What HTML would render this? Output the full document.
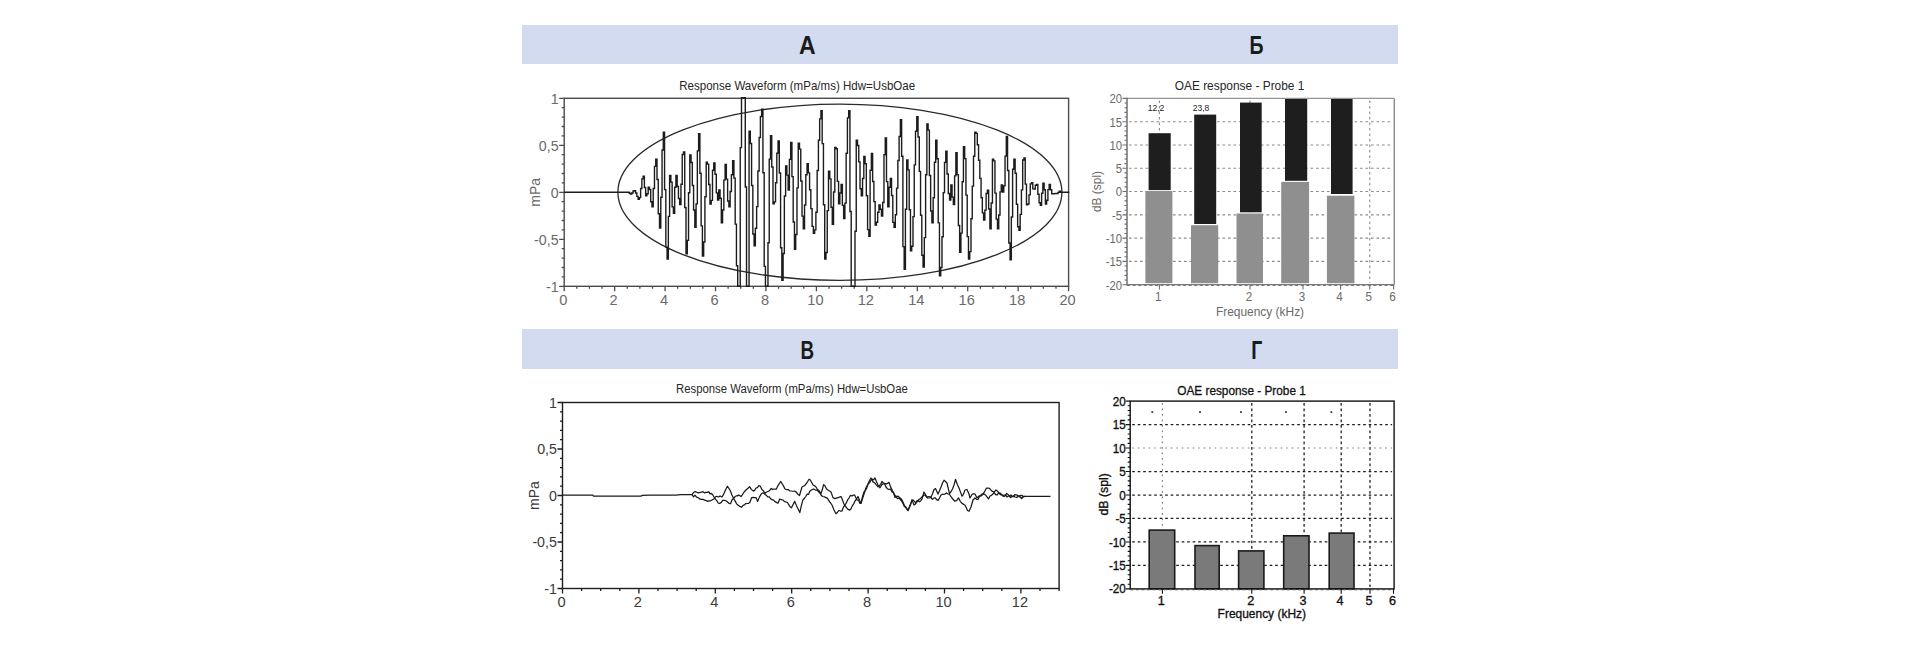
<!DOCTYPE html><html><head><meta charset="utf-8"><title>OAE</title>
<style>html,body{margin:0;padding:0;background:#fff;width:1920px;height:652px;overflow:hidden}svg{display:block}text{font-family:'Liberation Sans', Arial, sans-serif}</style></head><body>
<svg width="1920" height="652" viewBox="0 0 1920 652">
<rect x="0" y="0" width="1920" height="652" fill="#fff"/>
<rect x="522" y="25" width="876" height="39" fill="#d2dbef"/>
<rect x="522" y="329" width="876" height="40" fill="#d2dbef"/>
<text x="807.2" y="53.8" font-family="'Liberation Sans', 'DejaVu Sans', sans-serif" font-weight="bold" font-size="25" fill="#1a1a1a" text-anchor="middle" textLength="16.6" lengthAdjust="spacingAndGlyphs">А</text>
<text x="1256.6" y="53.8" font-family="'Liberation Sans', 'DejaVu Sans', sans-serif" font-weight="bold" font-size="25" fill="#1a1a1a" text-anchor="middle" textLength="14" lengthAdjust="spacingAndGlyphs">Б</text>
<text x="807.2" y="358.8" font-family="'Liberation Sans', 'DejaVu Sans', sans-serif" font-weight="bold" font-size="25" fill="#1a1a1a" text-anchor="middle" textLength="13.6" lengthAdjust="spacingAndGlyphs">В</text>
<text x="1256.8" y="358.8" font-family="'Liberation Sans', 'DejaVu Sans', sans-serif" font-weight="bold" font-size="25" fill="#1a1a1a" text-anchor="middle" textLength="11" lengthAdjust="spacingAndGlyphs">Г</text>
<text x="679.2" y="89.6" font-size="13" fill="#262626" textLength="236" lengthAdjust="spacingAndGlyphs">Response Waveform (mPa/ms) Hdw=UsbOae</text>
<rect x="564.2" y="98.3" width="504.4" height="188" fill="none" stroke="#4a4a4a" stroke-width="1.4"/>
<path d="M559.2 286.3H564.2M561.7 276.9H564.2M561.7 267.5H564.2M561.7 258.1H564.2M561.7 248.7H564.2M559.2 239.3H564.2M561.7 229.9H564.2M561.7 220.5H564.2M561.7 211.1H564.2M561.7 201.7H564.2M559.2 192.3H564.2M561.7 182.9H564.2M561.7 173.5H564.2M561.7 164.1H564.2M561.7 154.7H564.2M559.2 145.3H564.2M561.7 135.9H564.2M561.7 126.5H564.2M561.7 117.1H564.2M561.7 107.7H564.2M559.2 98.3H564.2" stroke="#4a4a4a" stroke-width="1.3" fill="none"/>
<path d="M564.2 286.3V291.3M576.81 286.3V288.8M589.42 286.3V288.8M602.03 286.3V288.8M614.64 286.3V291.3M627.25 286.3V288.8M639.86 286.3V288.8M652.47 286.3V288.8M665.08 286.3V291.3M677.69 286.3V288.8M690.3 286.3V288.8M702.91 286.3V288.8M715.52 286.3V291.3M728.13 286.3V288.8M740.74 286.3V288.8M753.35 286.3V288.8M765.96 286.3V291.3M778.57 286.3V288.8M791.18 286.3V288.8M803.79 286.3V288.8M816.4 286.3V291.3M829.01 286.3V288.8M841.62 286.3V288.8M854.23 286.3V288.8M866.84 286.3V291.3M879.45 286.3V288.8M892.06 286.3V288.8M904.67 286.3V288.8M917.28 286.3V291.3M929.89 286.3V288.8M942.5 286.3V288.8M955.11 286.3V288.8M967.72 286.3V291.3M980.33 286.3V288.8M992.94 286.3V288.8M1005.55 286.3V288.8M1018.16 286.3V291.3M1030.77 286.3V288.8M1043.38 286.3V288.8M1055.99 286.3V288.8M1068.6 286.3V291.3" stroke="#4a4a4a" stroke-width="1.3" fill="none"/>
<text transform="translate(558.6 103.78) scale(0.93 1)" font-size="15.3" fill="#6a6a6a" text-anchor="end">1</text>
<text transform="translate(558.6 150.78) scale(0.93 1)" font-size="15.3" fill="#6a6a6a" text-anchor="end">0,5</text>
<text transform="translate(558.6 197.78) scale(0.93 1)" font-size="15.3" fill="#6a6a6a" text-anchor="end">0</text>
<text transform="translate(558.6 244.78) scale(0.93 1)" font-size="15.3" fill="#6a6a6a" text-anchor="end">-0,5</text>
<text transform="translate(558.6 291.78) scale(0.93 1)" font-size="15.3" fill="#6a6a6a" text-anchor="end">-1</text>
<text transform="translate(563.2 305.1) scale(1 1)" font-size="14.6" fill="#6a6a6a" text-anchor="middle">0</text>
<text transform="translate(613.64 305.1) scale(1 1)" font-size="14.6" fill="#6a6a6a" text-anchor="middle">2</text>
<text transform="translate(664.08 305.1) scale(1 1)" font-size="14.6" fill="#6a6a6a" text-anchor="middle">4</text>
<text transform="translate(714.52 305.1) scale(1 1)" font-size="14.6" fill="#6a6a6a" text-anchor="middle">6</text>
<text transform="translate(764.96 305.1) scale(1 1)" font-size="14.6" fill="#6a6a6a" text-anchor="middle">8</text>
<text transform="translate(815.4 305.1) scale(1 1)" font-size="14.6" fill="#6a6a6a" text-anchor="middle">10</text>
<text transform="translate(865.84 305.1) scale(1 1)" font-size="14.6" fill="#6a6a6a" text-anchor="middle">12</text>
<text transform="translate(916.28 305.1) scale(1 1)" font-size="14.6" fill="#6a6a6a" text-anchor="middle">14</text>
<text transform="translate(966.72 305.1) scale(1 1)" font-size="14.6" fill="#6a6a6a" text-anchor="middle">16</text>
<text transform="translate(1017.16 305.1) scale(1 1)" font-size="14.6" fill="#6a6a6a" text-anchor="middle">18</text>
<text transform="translate(1067.6 305.1) scale(1 1)" font-size="14.6" fill="#6a6a6a" text-anchor="middle">20</text>
<text transform="translate(540.2 192.3) rotate(-90)" font-size="14" fill="#6a6a6a" text-anchor="middle">mPa</text>
<ellipse cx="839.9" cy="192.25" rx="222" ry="88.1" fill="none" stroke="#2a2a2a" stroke-width="1.3"/>
<path d="M564.2 192.3H628V192.3H629.26V193.26H630.52V194H631.78V192.99H633.04V190.97H634.3V190.8H635.57V193H636.83V196.35H638.09V199.2H639.35V197.67H640.61V188.55H641.87V178.9H643.13V176.3H644.39V187.5H645.65V195.7H646.91V193.82H648.18V187.3H649.44V189.48H650.7V201.72H651.96V206.7H653.22V188.52H654.48V166.39H655.74V159.3H657V179.46H658.26V213.8H659.52V228.1H660.79V197.18H662.05V150.03H663.31V132.1H664.57V189.65H665.83V247.1H667.09V259H668.35V216.42H669.61V175.5H670.87V182.15H672.13V206.87H673.4V213.4H674.66V187.19H675.92V175.5H677.18V186.54H678.44V198.55H679.7V204.5H680.96V184.32H682.22V154.53H683.48V152H684.74V207.54H686.01V253.9H687.27V240.37H688.53V192.74H689.79V154.9H691.05V162.5H692.31V185.49H693.57V209.94H694.83V227.3H696.09V203.91H697.35V150.9H698.62V133.6H699.88V173.27H701.14V225.84H702.4V256H703.66V242.03H704.92V196.71H706.18V162.3H707.44V164.14H708.7V184.43H709.96V204H711.23V200.42H712.49V170.25H713.75V163H715.01V174.22H716.27V192.83H717.53V200H718.79V190H720.05V198.24H721.31V222.9H722.57V209.94H723.84V180.11H725.1V164.5H726.36V179.09H727.62V201.03H728.88V206.7H730.14V191.52H731.4V174.82H732.66V160.8H733.92V178.12H735.18V224.14H736.45V265.79H737.71V286.3H738.97V286.3H740.23V147.58H741.49V97.8H742.75V97.8H744.01V97.8H745.27V187.03H746.53V286.3H747.79V286.3H749.06V131.3H750.32V143.51H751.58V185.47H752.84V233.93H754.1V245.8H755.36V228.2H756.62V206.61H757.88V171H759.14V137.46H760.4V116.55H761.67V109.3H762.93V172.76H764.19V266.34H765.45V286.3H766.71V286.3H767.97V242.73H769.23V159.15H770.49V135.8H771.75V166.93H773.01V203.8H774.28V201.92H775.54V182.77H776.8V153.27H778.06V140.9H779.32V172.98H780.58V247.75H781.84V280.4H783.1V253.5H784.36V196.03H785.62V166H786.89V175.16H788.15V190H789.41V159.37H790.67V142.4H791.93V176.61H793.19V222H794.45V249.4H795.71V234.51H796.97V187.87H798.23V143.1H799.5V149.13H800.76V180.99H802.02V216.1H803.28V228.8H804.54V205.01H805.8V174.68H807.06V163.7H808.32V172.92H809.58V189.71H810.84V208.66H812.11V226.4H813.37V233.2H814.63V229.87H815.89V212.18H817.15V170.43H818.41V140.19H819.67V118.92H820.93V110.7H822.19V143.65H823.45V204.7H824.72V259H825.98V252.56H827.24V210.62H828.5V171.1H829.76V178.9H831.02V207.24H832.28V224.4H833.54V192.07H834.8V147.5H836.06V148.76H837.33V181.38H838.59V203.8H839.85V193.04H841.11V184.4H842.37V205.35H843.63V218.5H844.89V203.16H846.15V153.24H847.41V117.84H848.67V110.7H849.94V211.56H851.2V286.3H852.46V286.3H853.72V286.3H854.98V231.3H856.24V140.2H857.5V145.44H858.76V161.83H860.02V188.82H861.28V195.7H862.55V178.54H863.81V156.4H865.07V163.79H866.33V195.78H867.59V229.66H868.85V236.2H870.11V170.24H871.37V153.4H872.63V181.5H873.89V201.63H875.16V225.1H876.42V222.26H877.68V212.25H878.94V205H880.2V209.29H881.46V216H882.72V202.44H883.98V154.78H885.24V138H886.5V181.65H887.77V206.7H889.03V187.19H890.29V178.5H891.55V195.49H892.81V222.42H894.07V227.3H895.33V214.72H896.59V188.14H897.85V160.51H899.11V136.52H900.38V119.6H901.64V156.27H902.9V246.59H904.16V269.3H905.42V209.3H906.68V160H907.94V169.85H909.2V209.71H910.46V250.9H911.72V246.32H912.99V216.66H914.25V164.84H915.51V131.31H916.77V116.6H918.03V137.06H919.29V171.37H920.55V215.26H921.81V255.25H923.07V267.1H924.33V237.66H925.6V174.7H926.86V124H928.12V130.15H929.38V175.53H930.64V211.04H931.9V222.9H933.16V197.77H934.42V162.23H935.68V140.2H936.94V158.76H938.21V222.86H939.47V275.9H940.73V267.5H941.99V236.79H943.25V192.59H944.51V162.34H945.77V151.2H947.03V173.99H948.29V193.54H949.55V200H950.82V185H952.08V197.09H953.34V204.5H954.6V175.89H955.86V152.7H957.12V174.65H958.38V225.49H959.64V252.4H960.9V233.15H962.16V181.68H963.43V146.8H964.69V158.58H965.95V195.14H967.21V236.61H968.47V259H969.73V251.65H970.99V218.73H972.25V186.08H973.51V156.31H974.77V132.1H976.04V133.38H977.3V144.72H978.56V160.3H979.82V178.39H981.08V197.82H982.34V212.91H983.6V220H984.86V210.08H986.12V193.54H987.38V190.3H988.65V208.93H989.91V228.8H991.17V203H992.43V159.3H993.69V160.89H994.95V193.1H996.21V219.09H997.47V228.8H998.73V215.02H999.99V191.92H1001.26V185H1002.52V192H1003.78V185.9H1005.04V156.12H1006.3V136.5H1007.56V170.45H1008.82V242.99H1010.08V259.7H1011.34V216.95H1012.6V169.24H1013.87V159.3H1015.13V173.22H1016.39V204.26H1017.65V226.75H1018.91V230.3H1020.17V214.33H1021.43V189.89H1022.69V159.98H1023.95V157.9H1025.21V184.1H1026.48V204.8H1027.74V204.07H1029V194.88H1030.26V183.87H1031.52V182.6H1032.78V188.91H1034.04V189H1035.3V185.19H1036.56V184.5H1037.82V194.24H1039.09V202.76H1040.35V205.4H1041.61V193.26H1042.87V183.2H1044.13V189.71H1045.39V204.1H1046.65V200.2H1047.91V189.65H1049.17V184.5H1050.43V189.78H1051.7V193.7H1052.96V193.68H1054.22V193.62H1055.48V193.54H1056.74V193.5H1058V192.35H1059.26V191.2H1060.52V192.3H1061.78V192.3H1063.04V192.3H1064.31V192.3H1065.57V192.3H1066.83V192.3H1068.09V192.3H1069.35" fill="none" stroke="#1c1c1c" stroke-width="1.4" stroke-linejoin="miter"/>
<text x="676" y="393.3" font-size="12.5" fill="#262626" textLength="231.8" lengthAdjust="spacingAndGlyphs">Response Waveform (mPa/ms) Hdw=UsbOae</text>
<rect x="562.5" y="402.5" width="496.6" height="186" fill="none" stroke="#1e1e1e" stroke-width="1.4"/>
<path d="M557.5 588.5H562.5M560 579.2H562.5M560 569.9H562.5M560 560.6H562.5M560 551.3H562.5M557.5 542H562.5M560 532.7H562.5M560 523.4H562.5M560 514.1H562.5M560 504.8H562.5M557.5 495.5H562.5M560 486.2H562.5M560 476.9H562.5M560 467.6H562.5M560 458.3H562.5M557.5 449H562.5M560 439.7H562.5M560 430.4H562.5M560 421.1H562.5M560 411.8H562.5M557.5 402.5H562.5" stroke="#1e1e1e" stroke-width="1.3" fill="none"/>
<path d="M562.5 588.5V593.5M581.6 588.5V591M600.7 588.5V591M619.8 588.5V591M638.9 588.5V593.5M658 588.5V591M677.1 588.5V591M696.2 588.5V591M715.3 588.5V593.5M734.4 588.5V591M753.5 588.5V591M772.6 588.5V591M791.7 588.5V593.5M810.8 588.5V591M829.9 588.5V591M849 588.5V591M868.1 588.5V593.5M887.2 588.5V591M906.3 588.5V591M925.4 588.5V591M944.5 588.5V593.5M963.6 588.5V591M982.7 588.5V591M1001.8 588.5V591M1020.9 588.5V593.5M1040 588.5V591M1059.1 588.5V591" stroke="#1e1e1e" stroke-width="1.3" fill="none"/>
<text transform="translate(556.9 407.98) scale(0.93 1)" font-size="15.3" fill="#3a3a3a" text-anchor="end">1</text>
<text transform="translate(556.9 454.48) scale(0.93 1)" font-size="15.3" fill="#3a3a3a" text-anchor="end">0,5</text>
<text transform="translate(556.9 500.98) scale(0.93 1)" font-size="15.3" fill="#3a3a3a" text-anchor="end">0</text>
<text transform="translate(556.9 547.48) scale(0.93 1)" font-size="15.3" fill="#3a3a3a" text-anchor="end">-0,5</text>
<text transform="translate(556.9 593.98) scale(0.93 1)" font-size="15.3" fill="#3a3a3a" text-anchor="end">-1</text>
<text transform="translate(561.5 607.3) scale(1 1)" font-size="14.6" fill="#3a3a3a" text-anchor="middle">0</text>
<text transform="translate(637.9 607.3) scale(1 1)" font-size="14.6" fill="#3a3a3a" text-anchor="middle">2</text>
<text transform="translate(714.3 607.3) scale(1 1)" font-size="14.6" fill="#3a3a3a" text-anchor="middle">4</text>
<text transform="translate(790.7 607.3) scale(1 1)" font-size="14.6" fill="#3a3a3a" text-anchor="middle">6</text>
<text transform="translate(867.1 607.3) scale(1 1)" font-size="14.6" fill="#3a3a3a" text-anchor="middle">8</text>
<text transform="translate(943.5 607.3) scale(1 1)" font-size="14.6" fill="#3a3a3a" text-anchor="middle">10</text>
<text transform="translate(1019.9 607.3) scale(1 1)" font-size="14.6" fill="#3a3a3a" text-anchor="middle">12</text>
<text transform="translate(538.5 495.5) rotate(-90)" font-size="14" fill="#3a3a3a" text-anchor="middle">mPa</text>
<polyline points="562.5,495 592.8,495 593.3,496 641.5,496 642,495.3 650,495.1 676,495.1 681,494.7 692,494.7 693.65,492.28 695.3,491.7 696.87,492.22 698.43,492.91 700,492.4 701.47,492.15 702.93,491.67 704.4,492.8 705.83,492.38 707.27,492.43 708.7,491.7 710.03,493.85 711.35,493.44 712.67,494.71 714,497 715.38,499.15 716.75,500.61 718.12,503.03 719.5,503.5 721.1,502.64 722.7,500.3 724.1,500.32 725.5,500.5 727.3,501.79 729.1,503.5 730.53,503.76 731.97,499.95 733.4,498.5 734.75,497.01 736.1,495.85 737.45,495.87 738.8,494.9 741,496.5 742.33,494.78 743.67,492.57 745,491 746.5,489.49 748,488.27 749.5,486.6 751.4,489.37 753.3,491.1 754.65,490.37 756,488 757.43,487.59 758.87,485.52 760.3,486.3 761.9,489.53 763.5,490.64 765.1,494.4 766.55,495.57 768,497 769.33,496.79 770.67,498.8 772,499.7 773.47,500.02 774.93,501.66 776.4,502.4 778,503.28 779.6,499.2 781.3,499.56 783,500 784.5,501.63 786,502 787.38,502.46 788.75,504.68 790.12,506.85 791.5,507.8 793.1,504.53 794.7,501.4 796.4,505.41 798.1,508.94 799.8,512.6 801.4,505.4 803,499.7 804.35,498.52 805.7,496.5 807.13,494.09 808.57,494.3 810,491.1 811.9,489.67 813.8,489 815.4,490.01 817,490 818.9,492 820.8,494 822.2,490.06 823.6,484.7 825.07,486.02 826.53,488.98 828,490 829.5,490.91 831,492 833,497.6 834.67,498.55 836.33,498.07 838,497.6 839.5,497.16 841,496.5 842.35,499.41 843.7,503.5 845.13,506.01 846.57,507.72 848,509.3 849.5,510.23 851,508.7 852.33,505.85 853.67,503.98 855,501 856.5,499.13 858,496.5 859.5,500.16 861,503.4 862.67,498.36 864.33,493.14 866,487.8 868,484 869.5,480.55 871,478 873,481.9 874.67,482.81 876.33,484.94 878,486.9 879.33,485.51 880.67,484.37 882,481.4 883.5,483.23 885,483.6 886.33,483.96 887.67,483.32 889,482.3 890.5,486.62 892,489.9 893.33,492.27 894.67,494.95 896,496.6 897.5,498.63 899,498 900.33,499.55 901.67,501.08 903,503.4 904.5,506.77 906,507.2 908,510.5 909.33,507.05 910.67,503.96 912,499.6 914,505 915.33,504.12 916.67,501.08 918,500.4 919.33,501.83 920.67,500.93 922,499.2 924,492 925.5,494.63 927,497 929,496.5 931,497 932.5,493.81 934,489.5 935.5,488.6 938,494.1 939.5,490.65 941,487 942.5,482.94 944,480.2 945.5,481.52 947,483 949.5,493.7 951,491.63 952.5,489 954,484.99 955.5,479.3 957.25,484.18 959,488 960.5,492.14 962,496.2 963.5,494.12 965,490 967,489.5 969,494 970,498 972,494.5 973.5,493.68 975,494 977,498 979,496 980.5,495.59 982,494 983.5,493.33 985,490.78 986.5,488.16 988,488 989.5,488.32 991,490.18 992.5,491.4 994,492 995.5,494.66 997,495 998.5,493.25 1000,493 1001.33,494.17 1002.67,495.82 1004,496.5 1005.33,495.72 1006.67,493.39 1008,494.5 1009.33,495.77 1010.67,497.57 1012,496.5 1013.33,496.69 1014.67,494.68 1016,494.8 1017.33,495.16 1018.67,496.3 1020,496.8 1021.6,498.5 1023.2,496.93 1024.8,496.3 1050.5,496.3" fill="none" stroke="#1a1a1a" stroke-width="1.25" stroke-linejoin="round"/>
<polyline points="692,494.5 693.5,496.9 695,495.22 696.5,497.07 698,497.6 700.1,499.2 701.62,499.44 703.14,499.42 704.66,500.09 706.18,500.57 707.7,501.4 709.13,500.86 710.57,500.76 712,500 713.85,499.01 715.7,496.5 717.13,496.48 718.57,496.98 720,496 722,497 723.38,494.64 724.75,491.7 726.12,488.78 727.5,486.3 728.98,488.49 730.45,490.98 731.92,495.05 733.4,498.1 735.05,500.89 736.7,504 738.3,505.3 739.9,506.41 741.5,507.3 742.98,505.37 744.45,504.83 745.92,503.58 747.4,503.5 748.7,503.45 750,502 751.7,497.6 753.13,497.47 754.57,497.64 756,497.6 757.6,501.4 759.5,496.88 761.4,493.8 763,492.81 764.6,493.8 765.95,492.37 767.3,491.77 768.65,491.24 770,490 771.33,488.49 772.67,489.53 774,489 776.4,489 777.83,485.81 779.27,483.56 780.7,481.5 782.13,483.7 783.57,486.13 785,489 786.6,489.54 788.2,489.5 789.6,490.85 791,491 792.85,491.25 794.7,491.1 796.3,492.11 797.9,494.29 799.5,495.5 802,487 803.33,486.22 804.67,485.58 806,484 807.5,481.8 809,479.3 810.33,479.95 811.67,482.49 813,485 814.5,485.65 816,487 817.33,489.3 818.67,490.18 820,492 821,495 822.67,496.49 824.33,496.9 826,497.6 827.5,498.37 829,501 830.5,502.98 832,505 834,510 836,513.8 837.35,512.51 838.7,510.5 840.35,511 842,511 843.5,506.85 845,505 846.33,502.93 847.67,499.85 849,498 850.5,495.39 852,496 853.3,495.03 854.6,495 857,500 858.5,500.19 860,503.4 861,503.4 862.5,496.7 864,492 865.33,490.35 866.67,488.43 868,484 869.33,483.06 870.67,480.93 872,479 873.5,479.85 875,478 876.5,481.7 878,485 880,487.8 881.5,485.12 883,484 884.5,483.63 886,487 887.5,488.87 889,489.5 890.5,489.03 892,492 893.5,492.58 895,497.5 896.5,496.31 898,496.2 899.5,497.45 901,498.7 902.5,500.96 904,504.6 906,508 908,510.5 909.5,507.47 911,503 913,500 914.5,501.38 916,503 917.5,501.35 919,499.5 920.5,498.53 922,497 923.5,495.51 925,495 927.5,498 929.25,497.86 931,497.5 932.5,499.38 934,497.9 935.33,497.99 936.67,499.64 938,500.4 939.5,498.04 941,495 942.33,494.25 943.67,494.32 945,494.1 946.5,492.91 948,493.99 949.5,494.5 951,496.58 952.5,498.7 955,501.3 956.75,500.38 958.5,497.9 960.25,501.31 962,503.4 963.33,504.13 964.67,504.93 966,507 967.5,510.47 969,511.3 971,507 973,500 975,498 976.5,499.37 978,499.5 979.5,496.28 981,496 982.5,494.71 984,494 985.5,494.95 987,496.84 988.5,499 990,496.01 991.5,495.31 993,494 994.5,491.57 996,490 997.5,491.28 999,493 1000.33,494.57 1001.67,494.8 1003,495.5 1004.33,495.05 1005.67,495.16 1007,497 1008.33,495.9 1009.67,496.49 1011,495 1012.33,496.33 1013.67,495.86 1015,497 1016.67,497.37 1018.33,496.36 1020,495.6 1021.6,495.35 1023.2,496.36 1024.8,496.3" fill="none" stroke="#1a1a1a" stroke-width="1.25" stroke-linejoin="round"/>
<text x="1174.7" y="90.4" font-size="12.5" fill="#262626" textLength="129.7" lengthAdjust="spacingAndGlyphs">OAE response - Probe 1</text>
<path d="M1129 121.69H1392.3M1129 144.97H1392.3M1129 168.26H1392.3M1129 191.55H1392.3M1129 214.84H1392.3M1129 238.12H1392.3M1129 261.41H1392.3M1159.4 100.4V282.7M1250 100.4V282.7M1303 100.4V282.7M1340.6 100.4V282.7M1369.77 100.4V282.7" stroke="#8a8a8a" stroke-width="1.1" stroke-dasharray="2.6 2.9" fill="none"/>
<rect x="1145.4" y="191" width="27" height="92.2" fill="#8f8f8f"/>
<rect x="1145.4" y="190.1" width="27" height="0.9" fill="#fff"/>
<rect x="1148.6" y="133.2" width="22.1" height="56.9" fill="#1e1e1e"/>
<rect x="1191" y="225.1" width="27.2" height="58.1" fill="#8f8f8f"/>
<rect x="1191" y="224" width="27.2" height="1.1" fill="#fff"/>
<rect x="1194.2" y="114.6" width="22" height="109.4" fill="#1e1e1e"/>
<rect x="1236.5" y="213.3" width="26.5" height="69.9" fill="#8f8f8f"/>
<rect x="1236.5" y="212.3" width="26.5" height="1" fill="#fff"/>
<rect x="1240" y="102.6" width="21.7" height="109.7" fill="#1e1e1e"/>
<rect x="1281.2" y="181.7" width="27.9" height="101.5" fill="#8f8f8f"/>
<rect x="1281.2" y="180.8" width="27.9" height="0.9" fill="#fff"/>
<rect x="1285" y="98.4" width="22.2" height="82.4" fill="#1e1e1e"/>
<rect x="1326.9" y="195.5" width="27.5" height="87.7" fill="#8f8f8f"/>
<rect x="1326.9" y="194" width="27.5" height="1.5" fill="#fff"/>
<rect x="1331" y="98.4" width="21.6" height="95.6" fill="#1e1e1e"/>
<text x="1156" y="111" font-size="8.5" fill="#222" text-anchor="middle">12,2</text>
<text x="1201" y="111" font-size="8.5" fill="#222" text-anchor="middle">23,8</text>
<path d="M1127 98.4H1394.3" stroke="#959595" stroke-width="1.3" fill="none"/>
<path d="M1394.3 98.4V284.7" stroke="#8a8a8a" stroke-width="1.4" fill="none"/>
<path d="M1127 284.7H1394.3" stroke="#7a7a7a" stroke-width="1.2" fill="none"/>
<path d="M1127 97.7V285.3" stroke="#666" stroke-width="1.4" fill="none"/>
<path d="M1122.5 284.7H1127M1124.5 280.04H1127M1124.5 275.38H1127M1124.5 270.73H1127M1124.5 266.07H1127M1122.5 261.41H1127M1124.5 256.75H1127M1124.5 252.1H1127M1124.5 247.44H1127M1124.5 242.78H1127M1122.5 238.12H1127M1124.5 233.47H1127M1124.5 228.81H1127M1124.5 224.15H1127M1124.5 219.5H1127M1122.5 214.84H1127M1124.5 210.18H1127M1124.5 205.52H1127M1124.5 200.87H1127M1124.5 196.21H1127M1122.5 191.55H1127M1124.5 186.89H1127M1124.5 182.24H1127M1124.5 177.58H1127M1124.5 172.92H1127M1122.5 168.26H1127M1124.5 163.61H1127M1124.5 158.95H1127M1124.5 154.29H1127M1124.5 149.63H1127M1122.5 144.97H1127M1124.5 140.32H1127M1124.5 135.66H1127M1124.5 131H1127M1124.5 126.34H1127M1122.5 121.69H1127M1124.5 117.03H1127M1124.5 112.37H1127M1124.5 107.72H1127M1124.5 103.06H1127M1122.5 98.4H1127" stroke="#6f6f6f" stroke-width="1.1" fill="none"/>
<path d="M1127 285.4H1394.3" stroke="#7a7a7a" stroke-width="1.1" stroke-dasharray="3 2.6" fill="none"/>
<path d="M1159.4 284.7V289.5M1250 284.7V289.5M1303 284.7V289.5M1340.6 284.7V289.5M1369.77 284.7V289.5M1393.6 284.7V289.5" stroke="#6f6f6f" stroke-width="1.1" fill="none"/>
<text transform="translate(1122 103.23) scale(0.84 1)" font-size="13.5" fill="#6a6a6a" text-anchor="end">20</text>
<text transform="translate(1122 126.52) scale(0.84 1)" font-size="13.5" fill="#6a6a6a" text-anchor="end">15</text>
<text transform="translate(1122 149.81) scale(0.84 1)" font-size="13.5" fill="#6a6a6a" text-anchor="end">10</text>
<text transform="translate(1122 173.1) scale(0.84 1)" font-size="13.5" fill="#6a6a6a" text-anchor="end">5</text>
<text transform="translate(1122 196.38) scale(0.84 1)" font-size="13.5" fill="#6a6a6a" text-anchor="end">0</text>
<text transform="translate(1122 219.67) scale(0.84 1)" font-size="13.5" fill="#6a6a6a" text-anchor="end">-5</text>
<text transform="translate(1122 242.96) scale(0.84 1)" font-size="13.5" fill="#6a6a6a" text-anchor="end">-10</text>
<text transform="translate(1122 266.25) scale(0.84 1)" font-size="13.5" fill="#6a6a6a" text-anchor="end">-15</text>
<text transform="translate(1122 289.53) scale(0.84 1)" font-size="13.5" fill="#6a6a6a" text-anchor="end">-20</text>
<text transform="translate(1158.3 301.2) scale(0.87 1)" font-size="13.4" fill="#6a6a6a" text-anchor="middle">1</text>
<text transform="translate(1248.9 301.2) scale(0.87 1)" font-size="13.4" fill="#6a6a6a" text-anchor="middle">2</text>
<text transform="translate(1301.9 301.2) scale(0.87 1)" font-size="13.4" fill="#6a6a6a" text-anchor="middle">3</text>
<text transform="translate(1339.5 301.2) scale(0.87 1)" font-size="13.4" fill="#6a6a6a" text-anchor="middle">4</text>
<text transform="translate(1368.67 301.2) scale(0.87 1)" font-size="13.4" fill="#6a6a6a" text-anchor="middle">5</text>
<text transform="translate(1392.5 301.2) scale(0.87 1)" font-size="13.4" fill="#6a6a6a" text-anchor="middle">6</text>
<text x="1215.9" y="315.6" font-size="13.2" fill="#6a6a6a" textLength="88.2" lengthAdjust="spacingAndGlyphs">Frequency (kHz)</text>
<text transform="translate(1100.5 191.5) rotate(-90)" font-size="12" fill="#6a6a6a" text-anchor="middle" textLength="41" lengthAdjust="spacingAndGlyphs">dB (spl)</text>
<text x="1177.3" y="394.6" font-size="12.5" fill="#111" textLength="128.5" lengthAdjust="spacingAndGlyphs" stroke="#111" stroke-width="0.3">OAE response - Probe 1</text>
<path d="M1132.2 424.58H1392.1M1132.2 471.52H1392.1M1132.2 495H1392.1M1132.2 518.48H1392.1M1132.2 541.95H1392.1M1132.2 565.42H1392.1M1251.8 403.1V586.9M1304.1 403.1V586.9M1341.2 403.1V586.9M1369.98 403.1V586.9" stroke="#1a1a1a" stroke-width="1.25" stroke-dasharray="2.6 2.9" fill="none"/>
<path d="M1132.2 448.05H1392.1M1162.4 403.1V586.9" stroke="#7a7a7a" stroke-width="1.1" stroke-dasharray="1.6 3.9" fill="none"/>
<rect x="1149.2" y="530.1" width="25.5" height="58.8" fill="#7a7a7a" stroke="#1a1a1a" stroke-width="1.6"/>
<rect x="1195" y="545.6" width="24.2" height="43.3" fill="#7a7a7a" stroke="#1a1a1a" stroke-width="1.6"/>
<rect x="1238.6" y="550.9" width="25.3" height="38" fill="#7a7a7a" stroke="#1a1a1a" stroke-width="1.6"/>
<rect x="1283.7" y="535.8" width="25.3" height="53.1" fill="#7a7a7a" stroke="#1a1a1a" stroke-width="1.6"/>
<rect x="1329.2" y="533.1" width="24.8" height="55.8" fill="#7a7a7a" stroke="#1a1a1a" stroke-width="1.6"/>
<rect x="1151.4" y="411.3" width="1.8" height="1.6" fill="#222"/>
<rect x="1199.1" y="411.3" width="1.8" height="1.6" fill="#222"/>
<rect x="1240.1" y="411.3" width="1.8" height="1.6" fill="#222"/>
<rect x="1285.1" y="411.3" width="1.8" height="1.6" fill="#222"/>
<rect x="1330.5" y="411.3" width="1.8" height="1.6" fill="#222"/>
<rect x="1130.2" y="401.1" width="263.9" height="187.8" fill="none" stroke="#111" stroke-width="1.4"/>
<path d="M1125.7 588.9H1130.2M1127.7 584.2H1130.2M1127.7 579.51H1130.2M1127.7 574.81H1130.2M1127.7 570.12H1130.2M1125.7 565.42H1130.2M1127.7 560.73H1130.2M1127.7 556.03H1130.2M1127.7 551.34H1130.2M1127.7 546.64H1130.2M1125.7 541.95H1130.2M1127.7 537.25H1130.2M1127.7 532.56H1130.2M1127.7 527.87H1130.2M1127.7 523.17H1130.2M1125.7 518.48H1130.2M1127.7 513.78H1130.2M1127.7 509.08H1130.2M1127.7 504.39H1130.2M1127.7 499.69H1130.2M1125.7 495H1130.2M1127.7 490.31H1130.2M1127.7 485.61H1130.2M1127.7 480.91H1130.2M1127.7 476.22H1130.2M1125.7 471.52H1130.2M1127.7 466.83H1130.2M1127.7 462.13H1130.2M1127.7 457.44H1130.2M1127.7 452.75H1130.2M1125.7 448.05H1130.2M1127.7 443.36H1130.2M1127.7 438.66H1130.2M1127.7 433.97H1130.2M1127.7 429.27H1130.2M1125.7 424.58H1130.2M1127.7 419.88H1130.2M1127.7 415.19H1130.2M1127.7 410.49H1130.2M1127.7 405.8H1130.2M1125.7 401.1H1130.2" stroke="#111" stroke-width="1.1" fill="none"/>
<path d="M1130.2 589.6H1394.1" stroke="#555" stroke-width="1.1" stroke-dasharray="3 2.6" fill="none"/>
<path d="M1162.4 588.9V593.7M1251.8 588.9V593.7M1304.1 588.9V593.7M1341.2 588.9V593.7M1369.98 588.9V593.7M1393.5 588.9V593.7" stroke="#111" stroke-width="1.1" fill="none"/>
<text transform="translate(1125.8 405.65) scale(0.92 1)" font-size="12.7" fill="#111" text-anchor="end" stroke="#111" stroke-width="0.35">20</text>
<text transform="translate(1125.8 429.12) scale(0.92 1)" font-size="12.7" fill="#111" text-anchor="end" stroke="#111" stroke-width="0.35">15</text>
<text transform="translate(1125.8 452.6) scale(0.92 1)" font-size="12.7" fill="#111" text-anchor="end" stroke="#111" stroke-width="0.35">10</text>
<text transform="translate(1125.8 476.07) scale(0.92 1)" font-size="12.7" fill="#111" text-anchor="end" stroke="#111" stroke-width="0.35">5</text>
<text transform="translate(1125.8 499.55) scale(0.92 1)" font-size="12.7" fill="#111" text-anchor="end" stroke="#111" stroke-width="0.35">0</text>
<text transform="translate(1125.8 523.02) scale(0.92 1)" font-size="12.7" fill="#111" text-anchor="end" stroke="#111" stroke-width="0.35">-5</text>
<text transform="translate(1125.8 546.5) scale(0.92 1)" font-size="12.7" fill="#111" text-anchor="end" stroke="#111" stroke-width="0.35">-10</text>
<text transform="translate(1125.8 569.97) scale(0.92 1)" font-size="12.7" fill="#111" text-anchor="end" stroke="#111" stroke-width="0.35">-15</text>
<text transform="translate(1125.8 593.45) scale(0.92 1)" font-size="12.7" fill="#111" text-anchor="end" stroke="#111" stroke-width="0.35">-20</text>
<text transform="translate(1161.3 605) scale(1 1)" font-size="12.6" fill="#111" text-anchor="middle" stroke="#111" stroke-width="0.35">1</text>
<text transform="translate(1250.7 605) scale(1 1)" font-size="12.6" fill="#111" text-anchor="middle" stroke="#111" stroke-width="0.35">2</text>
<text transform="translate(1303 605) scale(1 1)" font-size="12.6" fill="#111" text-anchor="middle" stroke="#111" stroke-width="0.35">3</text>
<text transform="translate(1340.1 605) scale(1 1)" font-size="12.6" fill="#111" text-anchor="middle" stroke="#111" stroke-width="0.35">4</text>
<text transform="translate(1368.88 605) scale(1 1)" font-size="12.6" fill="#111" text-anchor="middle" stroke="#111" stroke-width="0.35">5</text>
<text transform="translate(1392.4 605) scale(1 1)" font-size="12.6" fill="#111" text-anchor="middle" stroke="#111" stroke-width="0.35">6</text>
<text x="1217.6" y="617.5" font-size="12.5" fill="#111" textLength="88.4" lengthAdjust="spacingAndGlyphs" stroke="#111" stroke-width="0.35">Frequency (kHz)</text>
<text transform="translate(1107.8 494.3) rotate(-90)" font-size="12" fill="#111" text-anchor="middle" textLength="42.5" lengthAdjust="spacingAndGlyphs" stroke="#111" stroke-width="0.35">dB (spl)</text>
</svg></body></html>
